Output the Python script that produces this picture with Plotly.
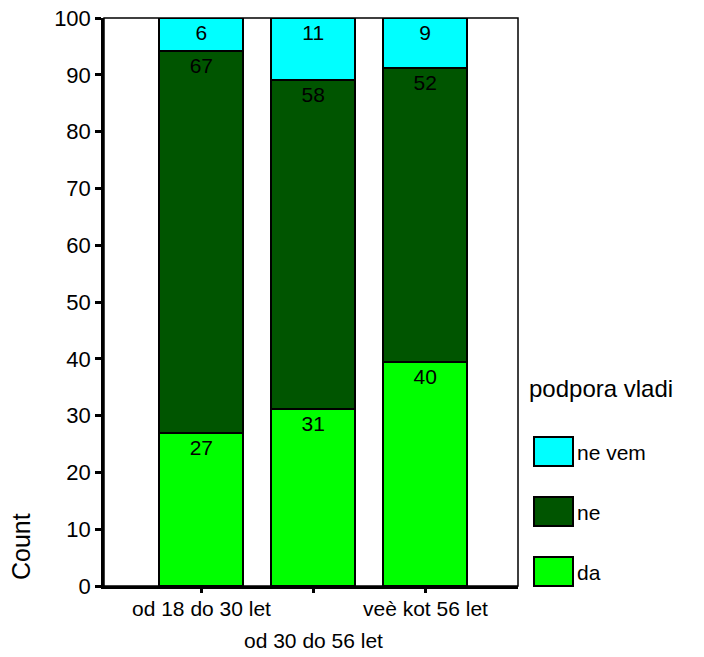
import plotly.graph_objects as go

categories = ["od 18 do 30 let", "od 30 do 56 let", "veè kot 56 let"]
da_vals = [27.0, 31.2, 39.4]
ne_vals = [67.2, 57.9, 51.8]
nevem_vals = [5.8, 10.9, 8.8]
da_labels = ["27", "31", "40"]
ne_labels = ["67", "58", "52"]
nevem_labels = ["6", "11", "9"]
y_ticks = [0, 10, 20, 30, 40, 50, 60, 70, 80, 90, 100]
legend_title = "podpora vladi"
series_names = ["ne vem", "ne", "da"]
colors = {"da": "#00FF00", "ne": "#005500", "ne vem": "#00FFFF"}

FONT = "Liberation Sans, Arial, sans-serif"
xpos = list(range(len(categories)))

fig = go.Figure()
for name, vals, labels in [("da", da_vals, da_labels), ("ne", ne_vals, ne_labels),
                           ("ne vem", nevem_vals, nevem_labels)]:
    fig.add_trace(go.Bar(
        x=xpos, y=vals, name=name, text=labels,
        textposition="inside", insidetextanchor="end", textangle=0,
        textfont=dict(family=FONT, size=21, color="black"),
        marker=dict(color=colors[name], line=dict(color="black", width=2)),
        width=0.75, showlegend=False,
    ))

# body margin removed via post_script; window-pixel plot area: x 104..518, y 18..586
W, H = 704, 657
PL, PR, PT, PB = 104, 518, 18, 586
L, T, R, B = PL, PT, W - PR, H - PB
pw, ph = PR - PL, PB - PT

def px_x(px):
    return (px - PL) / pw

def px_y(py):
    return (PB - py) / ph

shapes = [dict(type="rect", xref="paper", yref="paper", x0=0, x1=1, y0=0, y1=1,
               line=dict(color="black", width=1.5), layer="above")]
annotations = []
label_y = [608, 640, 608]
for i, c in enumerate(categories):
    annotations.append(dict(x=xpos[i], xref="x", y=px_y(label_y[i]), yref="paper",
                            text=c, showarrow=False, xanchor="center", yanchor="middle",
                            font=dict(family=FONT, size=21, color="black")))
annotations.append(dict(x=px_x(21), y=px_y(547), xref="paper", yref="paper", text="Count",
                        textangle=-90, showarrow=False, xanchor="center", yanchor="middle",
                        font=dict(family=FONT, size=25, color="black")))
annotations.append(dict(x=px_x(527), y=px_y(388), xref="paper", yref="paper", text=legend_title,
                        showarrow=False, xanchor="left", yanchor="middle",
                        font=dict(family=FONT, size=24, color="black")))
box_tops = [437, 497, 557]
for name, top in zip(series_names, box_tops):
    shapes.append(dict(type="rect", xref="paper", yref="paper",
                       x0=px_x(534), x1=px_x(573), y0=px_y(top + 29), y1=px_y(top),
                       fillcolor=colors[name], line=dict(color="black", width=2)))
    annotations.append(dict(x=px_x(575), y=px_y(top + 15), xref="paper", yref="paper",
                            text=name, showarrow=False, xanchor="left", yanchor="middle",
                            font=dict(family=FONT, size=21, color="black")))

fig.update_layout(
    width=W, height=H, barmode="stack",
    margin=dict(l=L, r=R, t=T, b=B, autoexpand=False),
    plot_bgcolor="white", paper_bgcolor="white",
    font=dict(family=FONT, size=21, color="black"),
    xaxis=dict(range=[-0.87, 2.83], tickvals=xpos, showticklabels=False,
               ticks="outside", ticklen=4, tickwidth=3, tickcolor="black",
               showline=True, linecolor="black", linewidth=2.5, showgrid=False, zeroline=False),
    yaxis=dict(range=[0, 100], tickvals=y_ticks, ticks="outside", ticklen=6, tickwidth=3,
               tickcolor="black", showline=True, linecolor="black", linewidth=2.5,
               ticklabeloverflow="allow",
               showgrid=False, zeroline=False, tickfont=dict(family=FONT, size=22, color="black")),
    shapes=shapes, annotations=annotations,
)
fig.write_html("out.html", config={"displayModeBar": False},
               post_script="document.body.style.margin='0';")
